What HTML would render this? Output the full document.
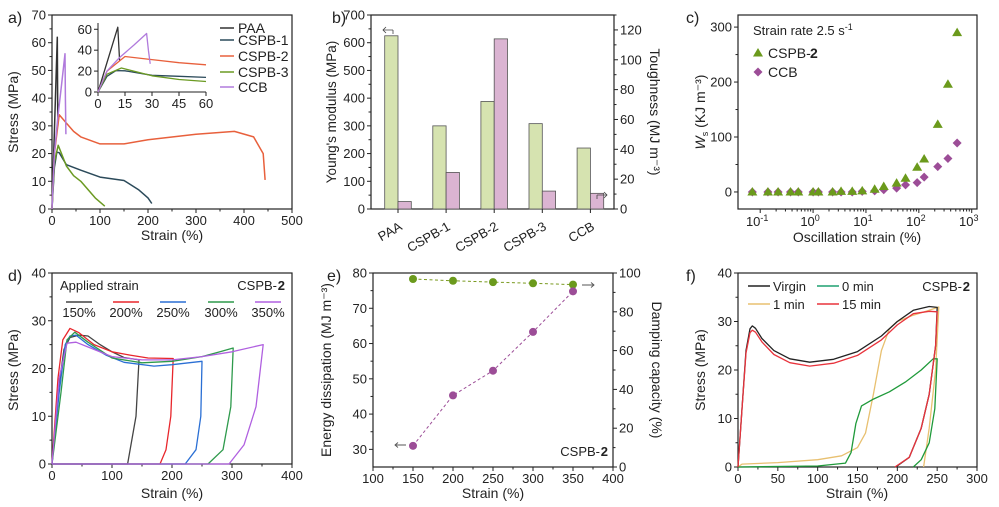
<!DOCTYPE html>
<html><head><meta charset="utf-8"><style>
html,body{margin:0;padding:0;background:#fff;width:999px;height:507px;overflow:hidden}
svg{display:block;font-family:"Liberation Sans",Arial,sans-serif}
</style></head><body>
<svg id="root" width="999" height="507" viewBox="0 0 999 507"></svg>
<script>
// ---------- DATA ----------
const aPAA=[[0,0],[11,62],[12,30]];
const aCSPB1=[[0,0],[5,15],[10,20.5],[15,20.3],[30,16],[45,15],[60,14],[100,11.5],[150,10.3],[180,7],[200,4],[208,2]];
const aCSPB2=[[0,0],[5,20],[15,34],[30,31],[45,28],[60,26],[100,23.5],[150,23.5],[200,25],[300,27],[380,28],[420,26],[440,20],[444,10.5]];
const aCSPB3=[[0,0],[5,17],[13,23],[30,15.5],[45,12],[60,10],[90,4],[110,1]];
const aCCB=[[0,0],[5,20],[12,33],[20,45],[27,56],[28,40],[29,27]];
const aNames=["PAA","CSPB-1","CSPB-2","CSPB-3","CCB"];
const bCats=["PAA","CSPB-1","CSPB-2","CSPB-3","CCB"];
const bModulus=[625,300,388,308,220];
const bTough=[5,24.5,114,12,10.5];
const cStrain=[0.071,0.14,0.218,0.374,0.525,1,1.26,2.34,3.38,5.5,8.5,14.6,21.7,38,56,93,126,228,355,530];
const cCSPB2=[0,0,0,0,0,0,0,0,1,1,2,5,10,16,25,45,60,123,196,290];
const cCCB=[0,0,0,0,0,0,0,0,0,0,1,2,4,7,13,17,27,46,61,89];
const d150=[[0,0],[10,15],[20,24],[30,26.5],[45,27],[60,26.8],[80,25],[100,23.5],[120,22.3],[145,21.8],[140,10],[126,0],[0,0]];
const d200=[[0,0],[10,18],[18,26],[30,28.4],[45,27.5],[70,25],[100,23.5],[130,22.8],[160,22.2],[202,22.1],[198,10],[190,3],[180,0],[0,0]];
const d250=[[0,0],[12,15],[22,25],[30,26.8],[40,27],[60,25],[90,22.8],[120,21.3],[170,20.5],[200,20.8],[250,21.5],[248,10],[240,3],[222,0],[0,0]];
const d300=[[0,0],[15,15],[25,26],[38,27.6],[60,25.5],[100,22.2],[150,21.2],[200,21.5],[250,22.5],[280,23.5],[302,24.3],[298,12],[285,3],[260,0],[0,0]];
const d350=[[0,0],[12,18],[25,25.3],[40,25.5],[60,24.5],[100,22.5],[150,21.8],[200,21.8],[250,22.5],[300,23.5],[352,25],[340,12],[320,4],[295,0],[0,0]];
const dLabels=["150%","200%","250%","300%","350%"];
const eStrain=[150,200,250,300,350];
const eEnergy=[31,45.3,52.3,63.3,74.8];
const eDamp=[96.9,96,95.3,94.7,94];
const fVirgin=[[0,0],[5,12],[10,24],[15,28.5],[18,29.1],[22,28.6],[30,26.5],[45,24],[65,22.3],[90,21.6],[120,22.2],[150,23.8],[180,27],[200,30],[220,32.3],[240,33.1],[250,32.9],[248,25],[240,15],[230,8],[215,2],[198,0]];
const f15=[[0,0],[5,12],[10,23.5],[15,27.7],[18,28.2],[22,27.8],[30,25.8],[45,23.2],[65,21.5],[90,20.8],[120,21.4],[150,23],[180,26.2],[200,29.3],[220,31.6],[240,32.1],[250,32],[248,25],[240,15],[230,8],[215,2],[197,0]];
const f1=[[0,0],[5,0.6],[50,0.9],[100,1.5],[130,2.3],[150,4],[160,7],[170,15],[180,24],[190,28.5],[200,30],[220,31.3],[240,32.3],[252,33],[248,20],[240,8],[233,0]];
const f0=[[0,0],[100,0.2],[135,0.8],[142,3],[148,9],[155,12.6],[170,14],[190,15.5],[210,17.5],[230,20],[245,22.3],[250,22.3],[247,12],[240,5],[230,1.5],[220,0]];

// ---------- HELPERS ----------
const NS="http://www.w3.org/2000/svg";
const root=document.getElementById('root');
function mk(tag,at,parent){const e=document.createElementNS(NS,tag);for(const k in at)e.setAttribute(k,at[k]);(parent||root).appendChild(e);return e;}
function P(L,R,T,B,xmin,xmax,ymin,ymax,log){return {L,R,T,B,xmin,xmax,ymin,ymax,log};}
function X(p,v){if(p.log){return p.L+(Math.log10(v)-p.xmin)/(p.xmax-p.xmin)*(p.R-p.L);}return p.L+(v-p.xmin)/(p.xmax-p.xmin)*(p.R-p.L);}
function Y(p,v,ymin,ymax){ymin=ymin===undefined?p.ymin:ymin;ymax=ymax===undefined?p.ymax:ymax;return p.B-(v-ymin)/(ymax-ymin)*(p.B-p.T);}
function txt(x,y,s,opt,name){const e=mk('text',{x,y,'font-size':opt.fs||13,'text-anchor':opt.a||'middle',fill:'#222'});if(opt.rot!==undefined)e.setAttribute('transform',`rotate(${opt.rot} ${x} ${y})`);if(opt.fw)e.setAttribute('font-weight',opt.fw);e.textContent=s;


return e;}
function frame(p,name){const r=mk('rect',{x:p.L,y:p.T,width:p.R-p.L,height:p.B-p.T,fill:'none',stroke:'#222','stroke-width':1.2});

}
function tick(x1,y1,x2,y2){const l=mk('line',{x1,y1,x2,y2,stroke:'#222','stroke-width':1});

}
function xTicks(p,vals,minor,y){const yy=y===undefined?p.B:y;vals.forEach(v=>{const x=X(p,v);tick(x,yy,x,yy+4);txt(x,yy+16,String(v),{},'x-tick-label');});(minor||[]).forEach(v=>{const x=X(p,v);tick(x,yy,x,yy+2.5);});}
function yTicks(p,vals,minor,ymin,ymax,right,xAt){const xx=xAt!==undefined?xAt:(right?p.R:p.L);vals.forEach(v=>{const y=Y(p,v,ymin,ymax);tick(xx,y,right?xx+4:xx-4,y);txt(right?xx+6:xx-6,y+4.5,String(v),{a:right?'start':'end'},'y-tick-label');});(minor||[]).forEach(v=>{const y=Y(p,v,ymin,ymax);tick(xx,y,right?xx+2.5:xx-2.5,y);});}
function path(p,pts,color,name,w,dash,clipX,clipY){let d='';pts.forEach((q,i)=>{if(clipX!==undefined&&q[0]>clipX)return;d+=(d?'L':'M')+X(p,q[0]).toFixed(1)+','+Y(p,Math.min(q[1],clipY===undefined?1e9:clipY)).toFixed(1);});const e=mk('path',{d,fill:'none',stroke:color,'stroke-width':w||1.5,'stroke-linejoin':'round'});if(dash)e.setAttribute('stroke-dasharray',dash);


return e;}
function range(a,b,s){const r=[];for(let v=a;v<=b+1e-9;v+=s)r.push(+v.toFixed(6));return r;}

// ---------- PANEL A ----------
const pa=P(52,292,15,209,0,500,0,70);
txt(8,23,'a)',{fs:16,a:'start'},'panel-label-a');
frame(pa,'plot-frame-a');
xTicks(pa,[0,100,200,300,400,500],range(50,450,100));
yTicks(pa,range(0,70,10),range(5,65,10));
txt(172,240,'Strain (%)',{fs:14},'x-axis-title-a');
txt(18,112,'Stress (MPa)',{fs:14,rot:-90},'y-axis-title-a');
const aSeries=[aPAA,aCSPB1,aCSPB2,aCSPB3,aCCB];
const aCols=['#333333','#2b4a5a','#e8603c','#6b9a22','#b07adc'];
aSeries.forEach((s,i)=>path(pa,s,aCols[i],'curve-'+aNames[i].toLowerCase()));
const pi=P(98,206,23,92,0,60,0,66);
mk('line',{x1:pi.L,y1:pi.T,x2:pi.L,y2:pi.B,stroke:'#222','stroke-width':1});
mk('line',{x1:pi.L,y1:pi.B,x2:pi.R,y2:pi.B,stroke:'#222','stroke-width':1});
xTicks(pi,[0,15,30,45,60]);
yTicks(pi,[0,20,40,60]);
aSeries.forEach((s,i)=>path(pi,s,aCols[i],'inset-curve-'+aNames[i].toLowerCase(),1.3,null,60));
aNames.forEach((n,i)=>{const y=[32,44,60,76,91][i];const l=mk('line',{x1:220,y1:y-4,x2:234,y2:y-4,stroke:aCols[i],'stroke-width':1.5});


txt(238,y+1,n,{fs:14,a:'start'},'legend-entry-a');});

// ---------- PANEL B ----------
const pb=P(371,614,15,209,0,5,0,700);
txt(332,23,'b)',{fs:16,a:'start'},'panel-label-b');
frame(pb,'plot-frame-b');
yTicks(pb,range(0,700,100),range(50,650,100));
yTicks(pb,range(0,120,20),range(10,130,20),0,130,true);
const bw=13.3;
bCats.forEach((c,i)=>{const cen=398+i*48.1;
const g=mk('rect',{x:cen-bw,y:Y(pb,bModulus[i]),width:bw,height:pb.B-Y(pb,bModulus[i]),fill:'#d6e3b0',stroke:'#555','stroke-width':0.8});


const t=mk('rect',{x:cen,y:Y(pb,bTough[i],0,130),width:bw,height:pb.B-Y(pb,bTough[i],0,130),fill:'#dbb4d2',stroke:'#555','stroke-width':0.8});


tick(cen,pb.B,cen,pb.B+4);
txt(cen+5,229,c,{fs:13,a:'end',rot:-30},'x-tick-label-b');});
mk('path',{d:'M393,30 L383,30 M386,27 L383,30 L386,33 M393,30 L393,34',fill:'none',stroke:'#444','stroke-width':0.8});
mk('path',{d:'M597,195 L607,195 M604,192 L607,195 L604,198 M597,195 L597,199',fill:'none',stroke:'#444','stroke-width':0.8});
txt(336,112,"Young's modulus (MPa)",{fs:13.5,rot:-90},'y-axis-title-b');
txt(650,112,'Toughness (MJ m⁻³)',{fs:14,rot:90},'y2-axis-title-b');

// ---------- PANEL C ----------
const pc=P(738,977,15,209,-1.42,3.1,-31,322,true);
txt(686,23,'c)',{fs:16,a:'start'},'panel-label-c');
frame(pc,'plot-frame-c');
yTicks(pc,[0,100,200,300],[50,150,250]);
[-1,0,1,2,3].forEach(e=>{const x=X(pc,Math.pow(10,e));tick(x,pc.B,x,pc.B+4);const t=txt(x-3,pc.B+17,'10',{fs:13},'x-tick-label-c');const s=document.createElementNS(NS,'tspan');s.setAttribute('dy','-5');s.setAttribute('font-size','9');s.textContent=String(e);t.appendChild(s);
for(let m=2;m<10;m++){const v=m*Math.pow(10,e);if(Math.log10(v)<pc.xmax&&Math.log10(v)>pc.xmin){const xm=X(pc,v);tick(xm,pc.B,xm,pc.B+2.5);}}});
cStrain.forEach((s,i)=>{const x=X(pc,s);let y=Y(pc,cCCB[i]);
const d=mk('path',{d:`M${x},${y-4.5}L${x+4.5},${y}L${x},${y+4.5}L${x-4.5},${y}Z`,fill:'#9c4d97'});


y=Y(pc,cCSPB2[i]);
const t=mk('path',{d:`M${x},${y-5}L${x+5},${y+3.5}L${x-5},${y+3.5}Z`,fill:'#6b9a1c'});

});
const ct=txt(753,35,'Strain rate 2.5 s',{fs:13,a:'start'},'annotation-strain-rate');
const ctsp=document.createElementNS(NS,'tspan');ctsp.setAttribute('dy','-5');ctsp.setAttribute('font-size','9');ctsp.textContent='-1';ct.appendChild(ctsp);
mk('path',{d:'M758,48L763,56.5L753,56.5Z',fill:'#6b9a1c'});
txt(768,58,'CSPB-',{fs:14,a:'start'},'legend-entry-cspb2');
txt(810,58,'2',{fs:14,a:'start',fw:'bold'},'legend-entry-cspb2-bold');
mk('path',{d:'M758,67.5L762.5,72L758,76.5L753.5,72Z',fill:'#9c4d97'});
txt(768,77,'CCB',{fs:14,a:'start'},'legend-entry-ccb');
const cyt=txt(705,112,'',{fs:14,rot:-90},'y-axis-title-c');
const c1=document.createElementNS(NS,'tspan');c1.setAttribute('font-style','italic');c1.textContent='W';cyt.appendChild(c1);
const c2=document.createElementNS(NS,'tspan');c2.setAttribute('font-size','9');c2.setAttribute('dy','3');c2.textContent='s';cyt.appendChild(c2);
const c3=document.createElementNS(NS,'tspan');c3.setAttribute('dy','-3');c3.textContent=' (KJ m⁻³)';cyt.appendChild(c3);
txt(857,242,'Oscillation strain (%)',{fs:14},'x-axis-title-c');

// ---------- PANEL D ----------
const pd=P(52,292,273,464,0,400,0,40);
txt(8,281,'d)',{fs:16,a:'start'},'panel-label-d');
frame(pd,'plot-frame-d');
xTicks(pd,[0,100,200,300,400],range(50,350,100));
yTicks(pd,range(0,40,10),range(5,35,10));
const dSeries=[d150,d200,d250,d300,d350];
const dCols=['#444444','#e8262c','#2a6fd4','#2e9a4c','#b060e0'];
dSeries.forEach((s,i)=>path(pd,s,dCols[i],'cycle-curve-'+dLabels[i].replace('%','pct'),1.3));
txt(60,290,'Applied strain',{fs:13,a:'start'},'legend-title-d');
txt(277,290,'CSPB-',{fs:13,a:'end'},'annotation-cspb2-d');
txt(285,290,'2',{fs:13,a:'end',fw:'bold'},'annotation-cspb2-d-bold');
dLabels.forEach((n,i)=>{const cx=[79,126,173,221,268][i];const l=mk('line',{x1:cx-13,y1:302,x2:cx+13,y2:302,stroke:dCols[i],'stroke-width':1.6});


txt(cx,317,n,{fs:13},'legend-entry-d');});
txt(172,498,'Strain (%)',{fs:14},'x-axis-title-d');
txt(18,370,'Stress (MPa)',{fs:14,rot:-90},'y-axis-title-d');

// ---------- PANEL E ----------
const pe=P(373,613,273,467,100,400,25,80);
txt(327,281,'e)',{fs:16,a:'start'},'panel-label-e');
frame(pe,'plot-frame-e');
xTicks(pe,[100,150,200,250,300,350,400],range(125,375,50));
yTicks(pe,[30,40,50,60,70,80],range(35,75,10));
yTicks(pe,[0,20,40,60,80,100],range(10,90,20),0,100,true);
const dl=mk('path',{d:eStrain.map((s,i)=>(i?'L':'M')+X(pe,s)+','+Y(pe,eDamp[i],0,100)).join(''),fill:'none',stroke:'#7a9a20','stroke-width':1,'stroke-dasharray':'3,2.5'});


path(pe,eStrain.map((s,i)=>[s,eEnergy[i]]),'#9c4d97','line-energy',1,'3,2.5');
eStrain.forEach((s,i)=>{const q1=mk('circle',{cx:X(pe,s),cy:Y(pe,eDamp[i],0,100),r:4,fill:'#6b9a1c'});


const q2=mk('circle',{cx:X(pe,s),cy:Y(pe,eEnergy[i]),r:4,fill:'#9c4d97'});

});
mk('path',{d:'M406,445L395,445M398,442.5L395,445L398,447.5',fill:'none',stroke:'#555','stroke-width':0.9});
mk('path',{d:'M582,285L594,285M591,282.5L594,285L591,287.5',fill:'none',stroke:'#555','stroke-width':0.9});
txt(600,456,'CSPB-',{fs:13,a:'end'},'annotation-cspb2-e');
txt(608,456,'2',{fs:13,a:'end',fw:'bold'},'annotation-cspb2-e-bold');
txt(493,498,'Strain (%)',{fs:14},'x-axis-title-e');
txt(331,370,'Energy dissipation (MJ m⁻³)',{fs:14,rot:-90},'y-axis-title-e');
txt(652,370,'Damping capacity (%)',{fs:14,rot:90},'y2-axis-title-e');

// ---------- PANEL F ----------
const pf=P(738,977,273,467,0,300,0,40);
txt(686,281,'f)',{fs:16,a:'start'},'panel-label-f');
frame(pf,'plot-frame-f');
xTicks(pf,[0,50,100,150,200,250,300],range(25,275,50));
yTicks(pf,range(0,40,10),range(5,35,10));
const fSeries=[f1,f0,fVirgin,f15];
const fCols=['#e8c070','#1f9a3a','#222222','#e8333c'];
const fNames=['1-min','0-min','virgin','15-min'];
fSeries.forEach((s,i)=>path(pf,s,fCols[i],'curve-'+fNames[i],1.3));
[['Virgin',748,286,'#222222'],['0 min',817,286,'#1fa070'],['1 min',748,304,'#e8c070'],['15 min',817,304,'#e8333c']].forEach(r=>{const l=mk('line',{x1:r[1],y1:r[2],x2:r[1]+22,y2:r[2],stroke:r[3],'stroke-width':1.6});


txt(r[1]+25,r[2]+5,r[0],{fs:13,a:'start'},'legend-entry-f');});
txt(962,291,'CSPB-',{fs:13,a:'end'},'annotation-cspb2-f');
txt(970,291,'2',{fs:13,a:'end',fw:'bold'},'annotation-cspb2-f-bold');
txt(857,498,'Strain (%)',{fs:14},'x-axis-title-f');
txt(705,370,'Stress (MPa)',{fs:14,rot:-90},'y-axis-title-f');
</script>
</body></html>
